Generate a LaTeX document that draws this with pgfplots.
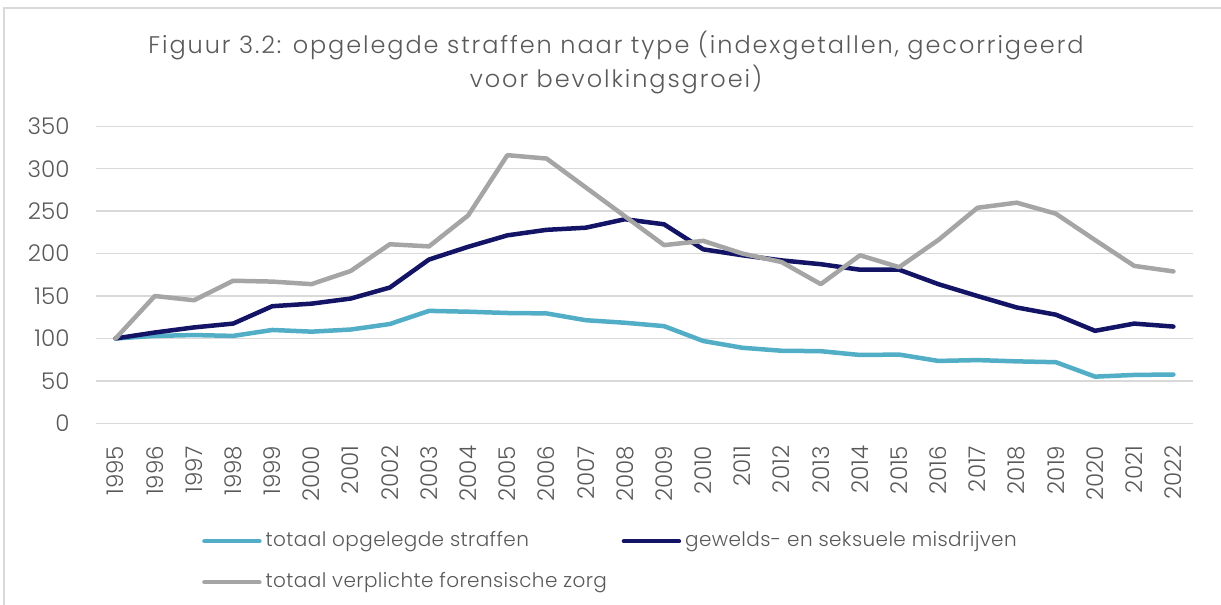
\documentclass[border=0pt]{standalone}
\usepackage{pgfplots}
\pgfplotsset{compat=1.18}
\usepackage{fontspec}
\setmainfont{Poppins Light}
\definecolor{cteal}{HTML}{52AEC6}
\definecolor{cnavy}{HTML}{131466}
\definecolor{cgray}{HTML}{A5A5A5}
\definecolor{ctext}{HTML}{595959}
\definecolor{cgrid}{HTML}{D9D9D9}
\begin{document}
\begin{tikzpicture}
\path[use as bounding box] (0pt,0pt) rectangle (1221pt,-605pt);
\draw[cgrid, line width=1.5pt] (4pt,-605pt) -- (4pt,-8pt) -- (1221pt,-8pt);
\node[font=\fontsize{24}{34}\selectfont\addfontfeature{LetterSpace=8}, text=ctext, align=center] at (616pt,-63pt) {Figuur 3.2: opgelegde straffen naar type (indexgetallen, gecorrigeerd\\voor bevolkingsgroei)};
\begin{axis}[
  at={(96pt,-423.3pt)}, anchor=south west,
  scale only axis, width=1097pt, height=297pt,
  xmin=1994.5, xmax=2022.5, ymin=0, ymax=350,
  ytick={0,50,...,350}, xtick={1995,...,2022},
  axis line style={draw=none}, tick style={draw=none},
  ymajorgrids, grid style={cgrid, line width=1.5pt},
  ticklabel style={font=\fontsize{23}{27}\selectfont, text=ctext},
  /pgf/number format/assume math mode=true,
  /pgf/number format/1000 sep={},
  yticklabel style={xshift=-23pt},
  xticklabel style={yshift=-19pt, rotate=90, anchor=east},
  legend columns=2,
  legend cell align=left,
  legend style={at={(0.0966,-0.356)}, anchor=north west, draw=none, fill=none, inner sep=0pt,
    font=\fontsize{20}{24}\selectfont\addfontfeature{LetterSpace=2}, text=ctext, column sep=2pt, row sep=17pt,
    nodes={inner sep=2pt, text height=15pt, text depth=5pt}},
  legend image code/.code={\draw[#1, line width=4.5pt, line cap=round] (0pt,0pt) -- (55pt,0pt);},
  every axis plot/.append style={line width=4.5pt, line join=round, line cap=round, mark=none},
]
\addplot[cteal] coordinates {(1995,100)(1996,103)(1997,104)(1998,103)(1999,110)(2000,108)(2001,110.5)(2002,117)(2003,132.5)(2004,131.5)(2005,130)(2006,129.5)(2007,121.5)(2008,118.5)(2009,114.5)(2010,97)(2011,89)(2012,85.5)(2013,85)(2014,80.5)(2015,81)(2016,73.5)(2017,74.5)(2018,73)(2019,72)(2020,55)(2021,57)(2022,57.5)};
\addlegendentry{\makebox[352pt][l]{totaal opgelegde straffen}}
\addplot[cnavy] coordinates {(1995,100)(1996,107)(1997,113)(1998,117.5)(1999,138)(2000,141)(2001,147)(2002,160)(2003,193)(2004,208)(2005,221.5)(2006,228)(2007,230.5)(2008,240.5)(2009,234.5)(2010,205)(2011,198)(2012,192)(2013,187.5)(2014,181)(2015,181)(2016,164)(2017,150)(2018,136.5)(2019,128)(2020,109)(2021,117.5)(2022,114)};
\addlegendentry{gewelds- en seksuele misdrijven}
\addplot[cgray] coordinates {(1995,100)(1996,150)(1997,145)(1998,168)(1999,167)(2000,164)(2001,179.5)(2002,211)(2003,208.5)(2004,245)(2005,316)(2006,312)(2007,278)(2008,244)(2009,210)(2010,215)(2011,200)(2012,190)(2013,164)(2014,198)(2015,184)(2016,216)(2017,254)(2018,260)(2019,247)(2020,216)(2021,185.5)(2022,179)};
\addlegendentry{totaal verplichte forensische zorg}
\end{axis}
\end{tikzpicture}
\end{document}
